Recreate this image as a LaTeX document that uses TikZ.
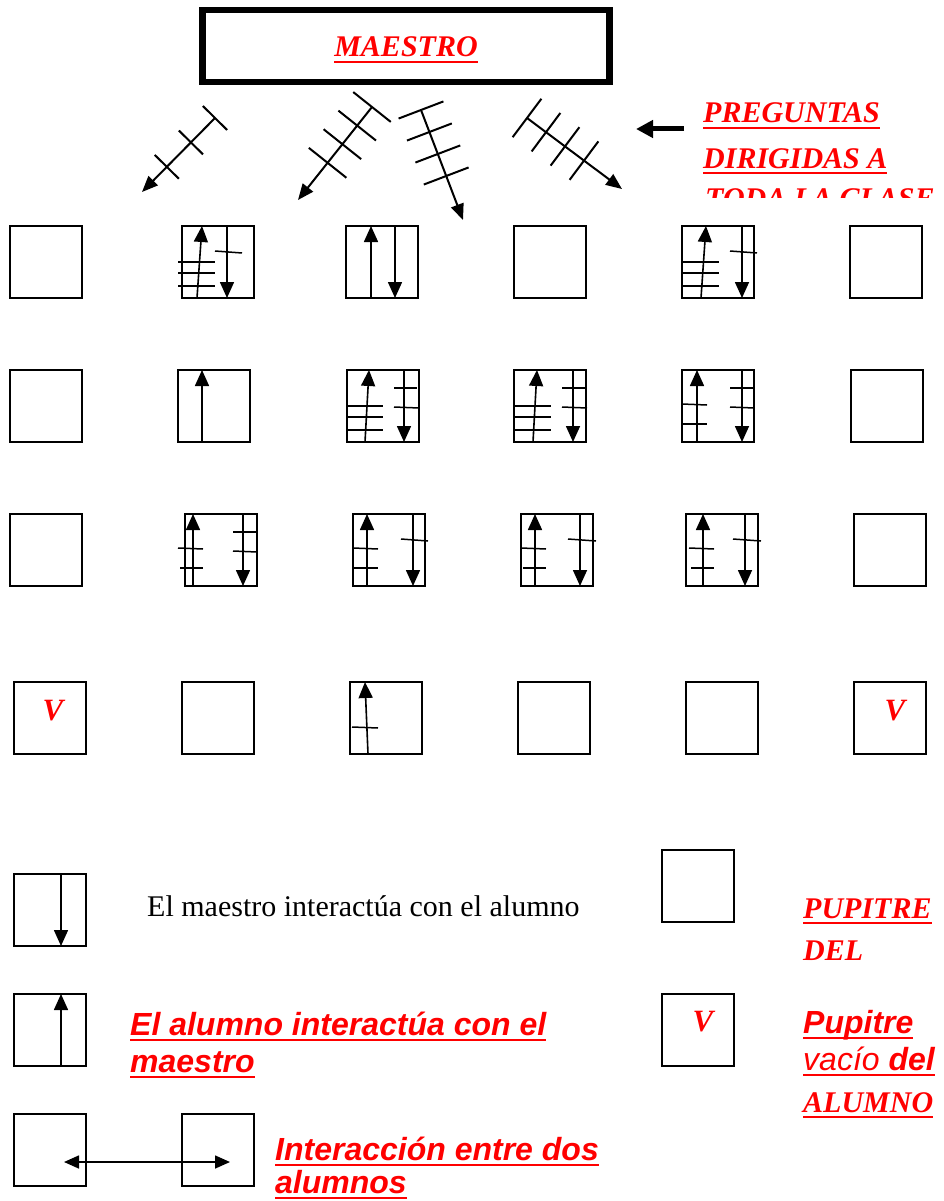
\documentclass[tikz,border=0pt]{standalone}
\usepackage{fontspec}
\setmainfont{Liberation Serif}
\newfontfamily\arialfont{Liberation Sans}
\usetikzlibrary{arrows.meta, calc}
\definecolor{clred}{RGB}{255,0,0}
\newcommand{\undl}[1]{\setbox0\hbox{#1}\rlap{\rule[-5.8pt]{\wd0}{2.2pt}}\box0}

\begin{document}
\begin{tikzpicture}[x=1pt, y=-1pt,
  desk/.style={draw, line width=1.8pt, minimum size=72pt, inner sep=0pt},
  arr/.style={line width=1.6pt, -{Triangle[width=14pt,length=16pt]}},
  tickln/.style={line width=1.5pt},
  shot/.style={line width=2pt, -{Triangle[width=13pt,length=16pt]}},
  fancy/.style={font=\fontsize{30}{34}\selectfont\bfseries\itshape, text=clred,
                anchor=base west, inner sep=0pt},
  legred/.style={font=\arialfont\fontsize{32}{38}\selectfont\bfseries\itshape,
                 text=clred, anchor=base west, inner sep=0pt},
  vmark/.style={font=\fontsize{31}{32}\selectfont\bfseries\itshape, text=clred,
                inner sep=0pt}]
  \useasboundingbox (0,0) rectangle (944,1201);

  % Maestro
  \node[draw, line width=6.5pt, minimum width=407pt, minimum height=72pt,
        font=\fontsize{30}{34}\selectfont\bfseries\itshape, text=clred,
        text height=22pt, text depth=0pt] (maestro) at (406,46) {\undl{MAESTRO}};

  % Preguntas a toda la clase
  \coordinate (s1a) at (215,118); \coordinate (s1b) at (142,192);
  \coordinate (s2a) at (372,107); \coordinate (s2b) at (298,200);
  \coordinate (s3a) at (421,110); \coordinate (s3b) at (463,220);
  \coordinate (s4a) at (527,118); \coordinate (s4b) at (622,189);
  \draw[shot] (s1a) -- (s1b);
  \draw[shot] (s2a) -- (s2b);
  \draw[shot] (s3a) -- (s3b);
  \draw[shot] (s4a) -- (s4b);
  \foreach \t in {0,0.33,0.66}
    \draw[line width=2pt] ($(s1a)!\t!(s1b)!17pt!90:(s1b)$) -- ($(s1a)!\t!(s1b)!17pt!-90:(s1b)$);
  \foreach \t in {0,0.2,0.4,0.6} {
    \draw[line width=2pt] ($(s2a)!\t!(s2b)!24pt!90:(s2b)$) -- ($(s2a)!\t!(s2b)!24pt!-90:(s2b)$);
    \draw[line width=2pt] ($(s3a)!\t!(s3b)!24pt!90:(s3b)$) -- ($(s3a)!\t!(s3b)!24pt!-90:(s3b)$);
    \draw[line width=2pt] ($(s4a)!\t!(s4b)!24pt!90:(s4b)$) -- ($(s4a)!\t!(s4b)!24pt!-90:(s4b)$);
  }

  \node[fancy] (preg1) at (703,123) {\undl{PREGUNTAS}};
  \node[fancy] (preg2) at (703,168) {\undl{DIRIGIDAS A}};
  \begin{scope}
    \clip (690,175) rectangle (944,197);
    \node[fancy] (preg3) at (705,208) {\undl{TODA LA CLASE}};
  \end{scope}
  \coordinate (ptra) at (684,129); \coordinate (ptrb) at (636,129);
  \draw[line width=5pt, -{Triangle[width=17pt,length=17pt]}] (ptra) -- (ptrb);

  % Pupitres
  \foreach \x [count=\i] in {46,218,382,550,718,886}
    \node[desk] (d1\i) at (\x,262) {};
  \foreach \x [count=\i] in {46,214,383,550,718,887}
    \node[desk] (d2\i) at (\x,406) {};
  \foreach \x [count=\i] in {46,221,389,557,722,890}
    \node[desk] (d3\i) at (\x,550) {};
  \foreach \x [count=\i] in {50,218,386,554,722,890}
    \node[desk] (d4\i) at (\x,718) {};

  % Fila 1
  \draw[arr] ($(d12)+(-21,36)$) -- ($(d12)+(-16,-36)$);
  \draw[arr] ($(d12)+(9,-36)$) -- ($(d12)+(9,36)$);
  \foreach \y in {0,11,24}
    \draw[tickln] ($(d12)+(-40,\y)$) -- ($(d12)+(-3,\y)$);
  \draw[tickln] ($(d12)+(-3,-11)$) -- ($(d12)+(24,-9)$);

  \draw[arr] ($(d13)+(-11,36)$) -- ($(d13)+(-11,-36)$);
  \draw[arr] ($(d13)+(13,-36)$) -- ($(d13)+(13,36)$);

  \draw[arr] ($(d15)+(-17,36)$) -- ($(d15)+(-12,-36)$);
  \draw[arr] ($(d15)+(24,-36)$) -- ($(d15)+(24,36)$);
  \foreach \y in {0,11,24}
    \draw[tickln] ($(d15)+(-36,\y)$) -- ($(d15)+(1,\y)$);
  \draw[tickln] ($(d15)+(12,-11)$) -- ($(d15)+(39,-9)$);

  % Fila 2
  \draw[arr] ($(d22)+(-12,36)$) -- ($(d22)+(-12,-36)$);

  \draw[arr] ($(d23)+(-18,36)$) -- ($(d23)+(-14,-36)$);
  \draw[arr] ($(d23)+(21,-36)$) -- ($(d23)+(21,36)$);
  \foreach \y in {0,11,24}
    \draw[tickln] ($(d23)+(-37,\y)$) -- ($(d23)+(0,\y)$);
  \draw[tickln] ($(d23)+(11,-18)$) -- ($(d23)+(34,-18)$);
  \draw[tickln] ($(d23)+(11,1)$) -- ($(d23)+(36,2)$);

  \draw[arr] ($(d24)+(-17,36)$) -- ($(d24)+(-13,-36)$);
  \draw[arr] ($(d24)+(23,-36)$) -- ($(d24)+(23,36)$);
  \foreach \y in {0,11,24}
    \draw[tickln] ($(d24)+(-35,\y)$) -- ($(d24)+(1,\y)$);
  \draw[tickln] ($(d24)+(12,-18)$) -- ($(d24)+(36,-18)$);
  \draw[tickln] ($(d24)+(12,1)$) -- ($(d24)+(37,2)$);

  \draw[arr] ($(d25)+(-21,36)$) -- ($(d25)+(-21,-36)$);
  \draw[arr] ($(d25)+(24,-36)$) -- ($(d25)+(24,36)$);
  \draw[tickln] ($(d25)+(-36,-2)$) -- ($(d25)+(-11,-1)$);
  \draw[tickln] ($(d25)+(-35,18)$) -- ($(d25)+(-11,18)$);
  \draw[tickln] ($(d25)+(12,-18)$) -- ($(d25)+(35,-18)$);
  \draw[tickln] ($(d25)+(12,1)$) -- ($(d25)+(36,2)$);

  % Fila 3
  \draw[arr] ($(d32)+(-28,36)$) -- ($(d32)+(-28,-36)$);
  \draw[arr] ($(d32)+(22,-36)$) -- ($(d32)+(22,36)$);
  \draw[tickln] ($(d32)+(-43,-2)$) -- ($(d32)+(-18,-1)$);
  \draw[tickln] ($(d32)+(-41,18)$) -- ($(d32)+(-18,18)$);
  \draw[tickln] ($(d32)+(12,-18)$) -- ($(d32)+(35,-18)$);
  \draw[tickln] ($(d32)+(12,1)$) -- ($(d32)+(36,2)$);

  \draw[arr] ($(d33)+(-22,36)$) -- ($(d33)+(-22,-36)$);
  \draw[arr] ($(d33)+(24,-36)$) -- ($(d33)+(24,36)$);
  \draw[tickln] ($(d33)+(-36,-2)$) -- ($(d33)+(-11,-1)$);
  \draw[tickln] ($(d33)+(-36,18)$) -- ($(d33)+(-11,18)$);
  \draw[tickln] ($(d33)+(12,-11)$) -- ($(d33)+(39,-9)$);

  \draw[arr] ($(d34)+(-22,36)$) -- ($(d34)+(-22,-36)$);
  \draw[arr] ($(d34)+(23,-36)$) -- ($(d34)+(23,36)$);
  \draw[tickln] ($(d34)+(-36,-2)$) -- ($(d34)+(-11,-1)$);
  \draw[tickln] ($(d34)+(-34,18)$) -- ($(d34)+(-11,18)$);
  \draw[tickln] ($(d34)+(11,-11)$) -- ($(d34)+(39,-9)$);

  \draw[arr] ($(d35)+(-19,36)$) -- ($(d35)+(-19,-36)$);
  \draw[arr] ($(d35)+(23,-36)$) -- ($(d35)+(23,36)$);
  \draw[tickln] ($(d35)+(-33,-2)$) -- ($(d35)+(-8,-1)$);
  \draw[tickln] ($(d35)+(-31,18)$) -- ($(d35)+(-8,18)$);
  \draw[tickln] ($(d35)+(11,-11)$) -- ($(d35)+(39,-9)$);

  % Fila 4
  \node[vmark] (v1) at (53,711) {V};
  \node[vmark] (v2) at (895,711) {V};
  \draw[arr] ($(d43)+(-18,36)$) -- ($(d43)+(-21,-36)$);
  \draw[tickln] ($(d43)+(-34,9)$) -- ($(d43)+(-8,10)$);

  % Leyenda
  \node[desk] (leg1) at (50,910) {};
  \draw[arr] ($(leg1)+(11,-36)$) -- ($(leg1)+(11,36)$);
  \node[anchor=base west, inner sep=0pt, font=\fontsize{30}{36}\selectfont] (txt1)
    at (147,916) {El maestro interactúa con el alumno};

  \node[desk] (leg2) at (50,1030) {};
  \draw[arr] ($(leg2)+(11,36)$) -- ($(leg2)+(11,-36)$);
  \node[legred] (txt2a) at (130,1035) {\undl{El alumno interactúa con el}};
  \node[legred] (txt2b) at (130,1072) {\undl{maestro}};

  \node[desk] (leg3a) at (50,1150) {};
  \node[desk] (leg3b) at (218,1150) {};
  \draw[line width=1.6pt, {Triangle[width=13pt,length=15pt]}-{Triangle[width=13pt,length=15pt]}]
    ($(leg3a)+(14,12)$) -- ($(leg3b)+(12,12)$);
  \node[legred] (txt3a) at (275,1160) {\undl{Interacción entre dos}};
  \node[legred] (txt3b) at (275,1193) {\undl{alumnos}};

  \node[desk] (leg4) at (698,886) {};
  \node[fancy] (pup1) at (803,918) {\undl{PUPITRE}};
  \node[fancy] (pup2) at (803,960) {DEL};

  \node[desk] (leg5) at (698,1030) {};
  \node[vmark] (v3) at (703,1022) {V};
  \node[legred] (pup3) at (803,1033) {\undl{Pupitre}};
  \node[legred] (pup4) at (803,1070) {\undl{{\mdseries vacío} del}};
  \node[fancy] (pup5) at (803,1112) {\undl{ALUMNO}};
\end{tikzpicture}
\end{document}
